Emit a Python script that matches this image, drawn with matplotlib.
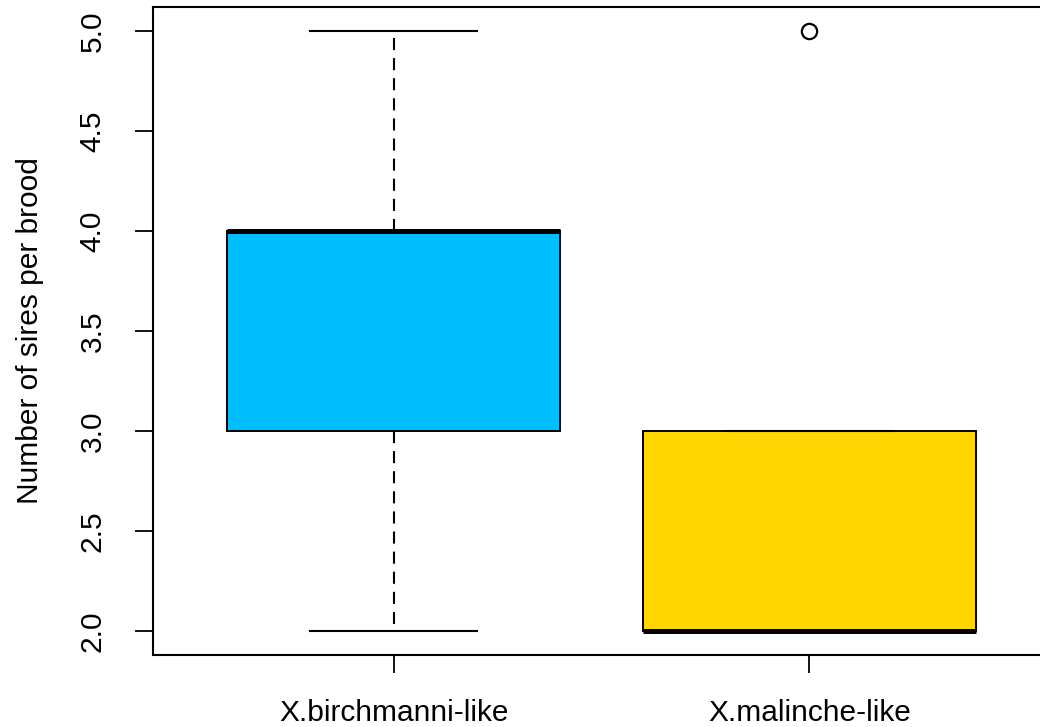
import matplotlib
matplotlib.use("Agg")
import matplotlib.pyplot as plt

# Brood paternity summaries per group
groups = ["X.birchmanni-like", "X.malinche-like"]
whisker_low = [2.0, 2.0]
q1 = [3.0, 2.0]
median = [4.0, 2.0]
q3 = [4.0, 3.0]
whisker_high = [5.0, 3.0]
outliers = [[], [5.0]]
fill_colors = ["#00BFFF", "#FFD700"]
y_ticks = [2.0, 2.5, 3.0, 3.5, 4.0, 4.5, 5.0]

plt.rcParams["font.family"] = ["Liberation Sans", "DejaVu Sans"]

fig = plt.figure(figsize=(10.4, 7.27), dpi=100)
ax = fig.add_axes([152.5 / 1040, 1 - 655 / 727, 898 / 1040, 648 / 727])

stats = []
for i, g in enumerate(groups):
    stats.append(dict(label=g, whislo=whisker_low[i], q1=q1[i], med=median[i],
                      q3=q3[i], whishi=whisker_high[i], fliers=outliers[i]))

bp = ax.bxp(stats, positions=[1, 2], widths=0.8, capwidths=0.4,
            patch_artist=True, showfliers=True,
            boxprops=dict(linewidth=1.4, edgecolor="black"),
            medianprops=dict(color="black", linewidth=3.6, solid_capstyle="butt"),
            whiskerprops=dict(color="black", linewidth=1.5, linestyle=(0, (5.8, 3.85))),
            capprops=dict(color="black", linewidth=1.5),
            flierprops=dict(marker="o", markerfacecolor="none", markeredgecolor="black",
                            markersize=11, markeredgewidth=1.6))
for patch, c in zip(bp["boxes"], fill_colors):
    patch.set_facecolor(c)

ax.set_xlim(0.42, 2.58)
ax.set_ylim(1.88, 5.12)
ax.set_yticks(y_ticks)
ax.set_yticklabels([f"{v:.1f}" for v in y_ticks], rotation=90, va="center")
ax.set_xticks([1, 2])
ax.set_xticklabels(groups)

ax.tick_params(axis="both", direction="out", length=13, width=1.3, labelsize=21.5, colors="black")
ax.tick_params(axis="y", pad=20)
ax.tick_params(axis="x", pad=19)
for s in ax.spines.values():
    s.set_linewidth(1.5)

ax.set_ylabel("Number of sires per brood", fontsize=21.5, labelpad=25)

fig.savefig("out.png", dpi=100)
